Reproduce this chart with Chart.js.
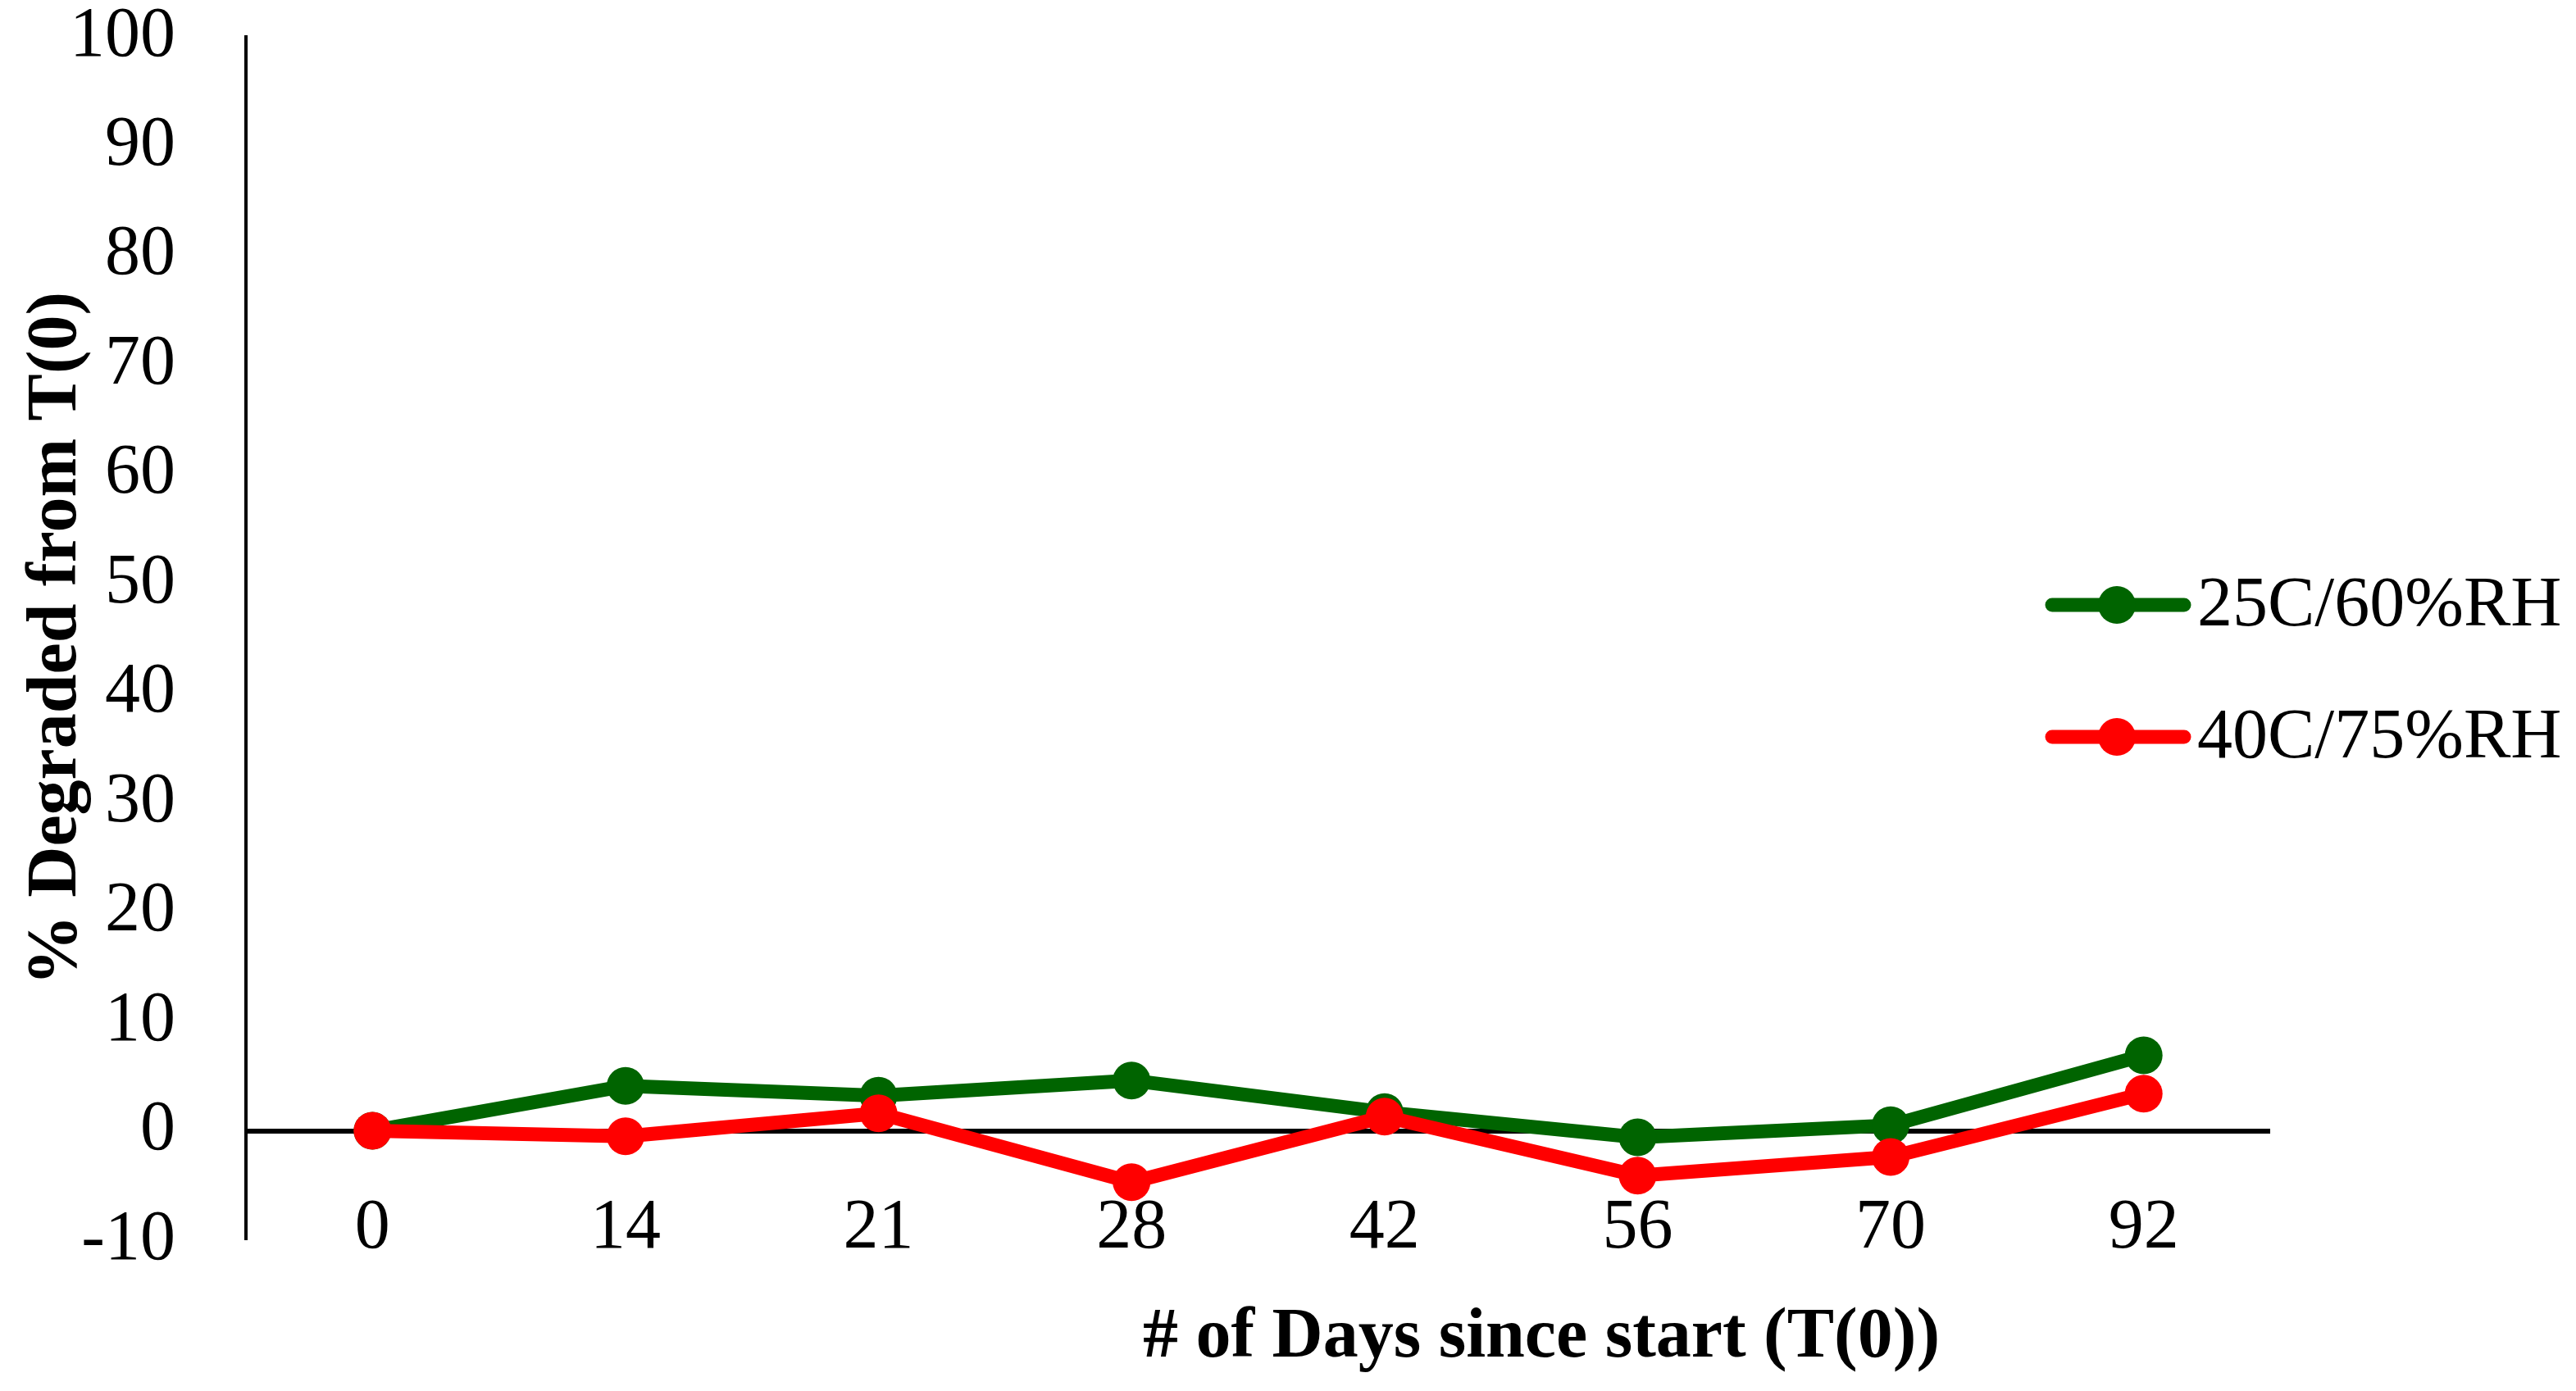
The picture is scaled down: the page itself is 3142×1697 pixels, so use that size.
<!DOCTYPE html>
<html>
<head>
<meta charset="utf-8">
<title>% Degraded from T(0)</title>
<script src="https://cdn.jsdelivr.net/npm/chart.js@4/dist/chart.umd.min.js"></script>
<style>
html,body{margin:0;padding:0;background:#fff;}
canvas{display:block;}
</style>
</head>
<body>
<canvas id="grafica" width="3142" height="1697"></canvas>
<script>
// data
const dias = ["0","14","21","28","42","56","70","92"];
const rh25 = [0, 4.1, 3.2, 4.6, 1.7, -0.6, 0.5, 6.9];
const rh40 = [0, -0.5, 1.6, -4.7, 1.3, -4.1, -2.4, 3.4];
const series = ["25C/60%RH", "40C/75%RH"];
const colores = ["#006400", "#ff0000"];

const fuente = "Liberation Serif";

/* x labels, x title and legend drawn by hand
   (chart.js clips tick labels to the scale box, these sit over the plot) */
const extras = {
id:"extras",
afterDraw(chart){
const ctx = chart.ctx;
const xs = chart.scales.x;
ctx.save();

// x tick labels
ctx.font = "86px '" + fuente + "'";
ctx.fillStyle = "#000";
ctx.textAlign = "center";
ctx.textBaseline = "middle";
dias.forEach((d, i) => {
ctx.fillText(d, xs.getPixelForTick(i), 1499);
});

// x axis title
ctx.font = "bold 86px '" + fuente + "'";
ctx.fillText("# of Days since start (T(0))", 1880, 1633);

// legend
const filas = [738, 899];
series.forEach((nombre, i) => {
const y = filas[i];
ctx.strokeStyle = colores[i];
ctx.lineWidth = 17;
ctx.lineCap = "round";
ctx.beginPath();
ctx.moveTo(2503, y);
ctx.lineTo(2664, y);
ctx.stroke();
ctx.fillStyle = colores[i];
ctx.beginPath();
ctx.arc(2582, y, 23, 0, Math.PI*2);
ctx.fill();
ctx.fillStyle = "#000";
ctx.textAlign = "left";
ctx.textBaseline = "alphabetic";
ctx.font = "86px '" + fuente + "'";
ctx.fillText(nombre, 2680, y + 25);
});

ctx.restore();
}
};

new Chart(document.getElementById("grafica"), {
type:"line",
data:{
labels:dias,
datasets:[
{
label:series[0],
data:rh25,
borderColor:colores[0],
backgroundColor:colores[0],
borderWidth:17,
pointRadius:23,
pointBorderWidth:0,
borderJoinStyle:"round",
borderCapStyle:"round",
order:2
},
{
label:series[1],
data:rh40,
borderColor:colores[1],
backgroundColor:colores[1],
borderWidth:17,
pointRadius:23,
pointBorderWidth:0,
borderJoinStyle:"round",
borderCapStyle:"round",
order:1
}
]
},
options:{
responsive:false,
animation:false,
devicePixelRatio:1,
layout:{padding:{left:0,right:373,top:45,bottom:0}},
plugins:{
legend:{display:false},
tooltip:{enabled:false}
},
scales:{
x:{
offset:true,
grid:{display:false,drawTicks:false},
border:{display:false},
ticks:{display:false},
afterFit(scale){
scale.height = 184;
scale.paddingLeft = 0;
scale.paddingRight = 0;
}
},
y:{
min:-10,
max:100,
grid:{
drawTicks:false,
color:c => c.tick && c.tick.value === 0 ? "#000" : "rgba(0,0,0,0)",
lineWidth:c => c.tick && c.tick.value === 0 ? 6 : 0
},
border:{display:true,color:"#000",width:4},
ticks:{
stepSize:10,
color:"#000",
padding:86,
font:{family:fuente,size:86,lineHeight:1}
},
title:{
display:true,
text:"% Degraded from T(0)",
color:"#000",
padding:{top:27,bottom:0},
font:{family:fuente,size:86,weight:"bold",lineHeight:1}
},
afterFit(scale){
scale.width = 300;
scale.paddingTop = 0;
scale.paddingBottom = 0;
}
}
}
},
plugins:[extras]
});
</script>
</body>
</html>
